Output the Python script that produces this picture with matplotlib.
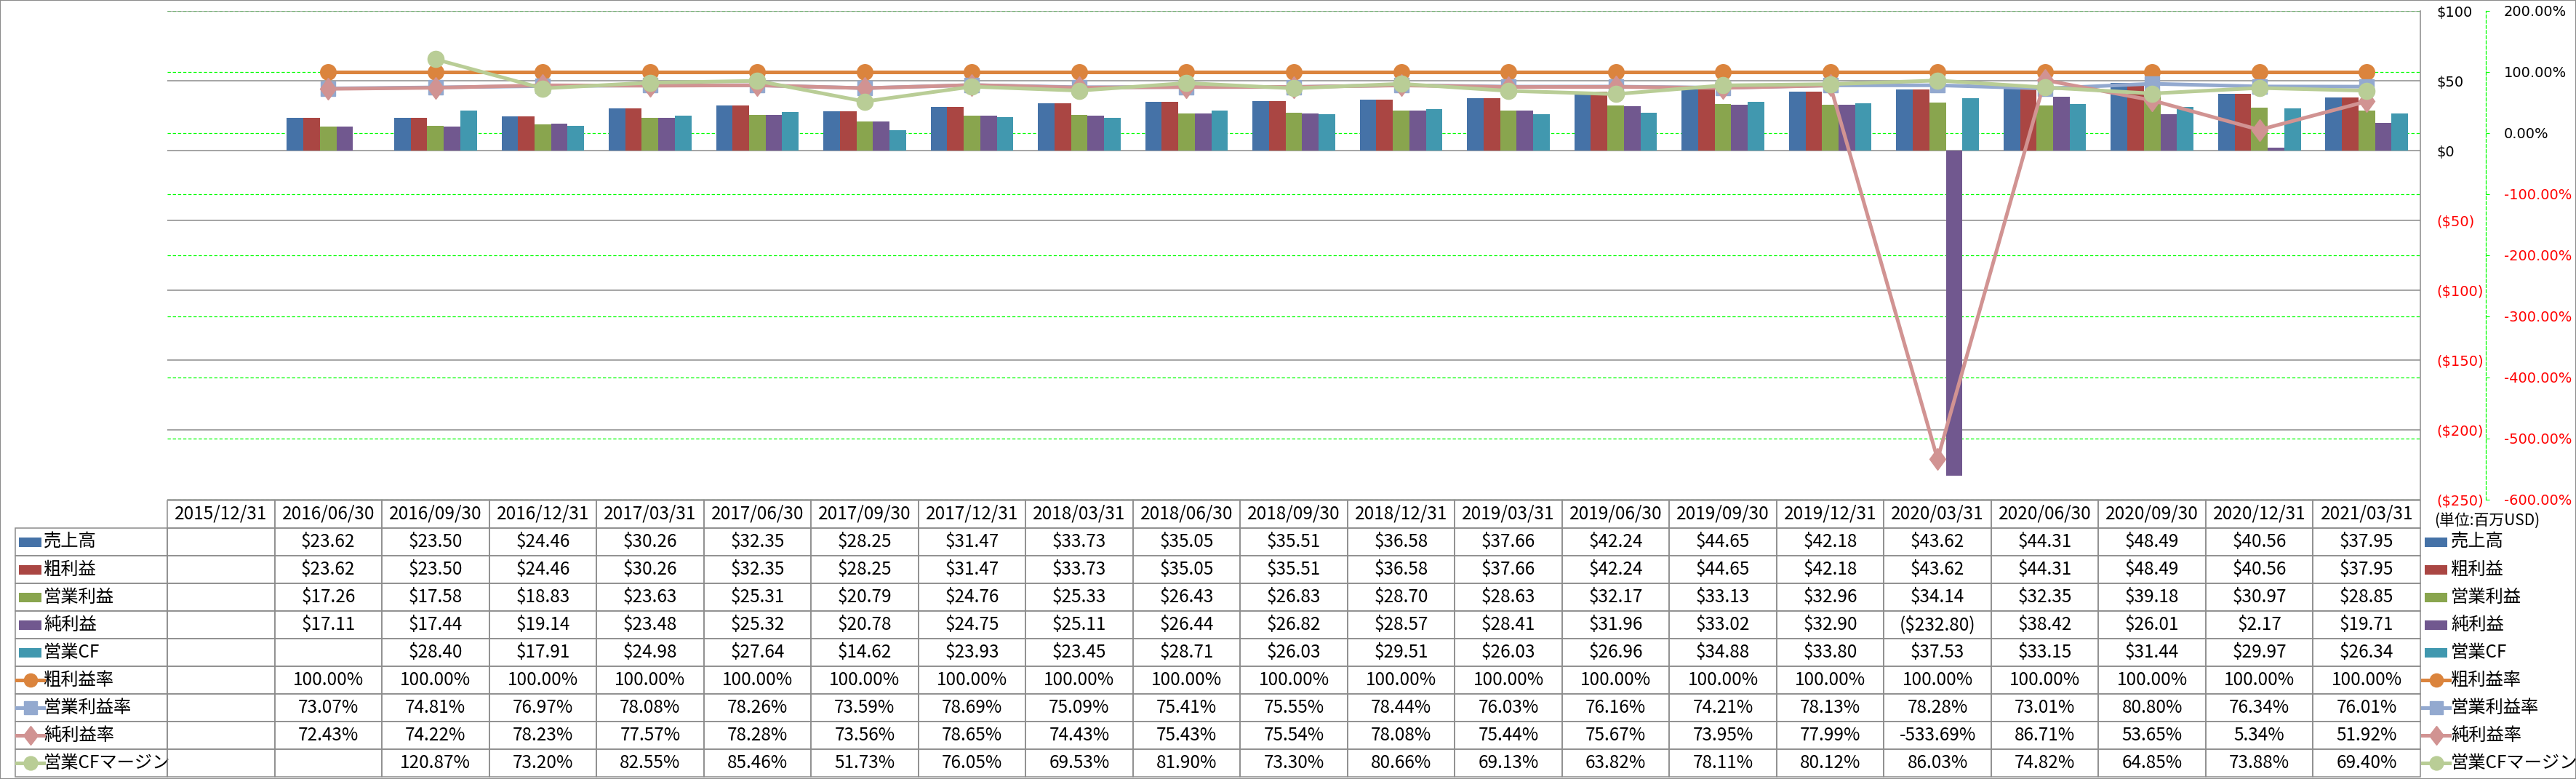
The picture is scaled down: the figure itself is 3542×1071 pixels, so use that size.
import numpy as np
import matplotlib
matplotlib.use('Agg')
import matplotlib.pyplot as plt
from matplotlib.patches import Rectangle
from matplotlib.lines import Line2D
from matplotlib.markers import MarkerStyle
from matplotlib.transforms import Affine2D

plt.rcParams['font.family'] = ['Noto Sans CJK JP', 'DejaVu Sans']

nan = np.nan
dates = ['2015/12/31', '2016/06/30', '2016/09/30', '2016/12/31', '2017/03/31', '2017/06/30',
         '2017/09/30', '2017/12/31', '2018/03/31', '2018/06/30', '2018/09/30', '2018/12/31',
         '2019/03/31', '2019/06/30', '2019/09/30', '2019/12/31', '2020/03/31', '2020/06/30',
         '2020/09/30', '2020/12/31', '2021/03/31']

sales = [nan, 23.62, 23.50, 24.46, 30.26, 32.35, 28.25, 31.47, 33.73, 35.05, 35.51, 36.58,
         37.66, 42.24, 44.65, 42.18, 43.62, 44.31, 48.49, 40.56, 37.95]
gross = [nan, 23.62, 23.50, 24.46, 30.26, 32.35, 28.25, 31.47, 33.73, 35.05, 35.51, 36.58,
         37.66, 42.24, 44.65, 42.18, 43.62, 44.31, 48.49, 40.56, 37.95]
op_income = [nan, 17.26, 17.58, 18.83, 23.63, 25.31, 20.79, 24.76, 25.33, 26.43, 26.83, 28.70,
             28.63, 32.17, 33.13, 32.96, 34.14, 32.35, 39.18, 30.97, 28.85]
net_income = [nan, 17.11, 17.44, 19.14, 23.48, 25.32, 20.78, 24.75, 25.11, 26.44, 26.82, 28.57,
              28.41, 31.96, 33.02, 32.90, -232.80, 38.42, 26.01, 2.17, 19.71]
op_cf = [nan, nan, 28.40, 17.91, 24.98, 27.64, 14.62, 23.93, 23.45, 28.71, 26.03, 29.51,
         26.03, 26.96, 34.88, 33.80, 37.53, 33.15, 31.44, 29.97, 26.34]

gross_margin = [nan] + [100.00] * 20
op_margin = [nan, 73.07, 74.81, 76.97, 78.08, 78.26, 73.59, 78.69, 75.09, 75.41, 75.55, 78.44,
             76.03, 76.16, 74.21, 78.13, 78.28, 73.01, 80.80, 76.34, 76.01]
net_margin = [nan, 72.43, 74.22, 78.23, 77.57, 78.28, 73.56, 78.65, 74.43, 75.43, 75.54, 78.08,
              75.44, 75.67, 73.95, 77.99, -533.69, 86.71, 53.65, 5.34, 51.92]
cf_margin = [nan, nan, 120.87, 73.20, 82.55, 85.46, 51.73, 76.05, 69.53, 81.90, 73.30, 80.66,
             69.13, 63.82, 78.11, 80.12, 86.03, 74.82, 64.85, 73.88, 69.40]

bar_names = ['売上高', '粗利益', '営業利益', '純利益', '営業CF']
bar_series = [sales, gross, op_income, net_income, op_cf]
bar_colors = ['#4572A7', '#AA4643', '#89A54E', '#71588F', '#4198AF']

line_names = ['粗利益率', '営業利益率', '純利益率', '営業CFマージン']
line_series = [gross_margin, op_margin, net_margin, cf_margin]
line_colors = ['#DB843D', '#93A9CF', '#D19392', '#B9CD96']

dollar_ticks = [-250, -200, -150, -100, -50, 0, 50, 100]
pct_ticks = [-600, -500, -400, -300, -200, -100, 0, 100, 200]

GRAY = '#8c8c8c'
GREEN = '#00ff00'
RED = '#ff0000'

W, H = 3542, 1071
fig = plt.figure(figsize=(W / 100, H / 100), dpi=100)
L, R, T, B = 230, 3328, 15, 687
pos = [L / W, 1 - B / H, (R - L) / W, (B - T) / H]

axg = fig.add_axes(pos)
ax = axg.twinx()
axl = axg.twinx()

x = np.arange(len(dates))

# ---- percentage axis (bottom layer, green grid) ----
axg.set_xlim(-0.5, len(dates) - 0.5)
axg.set_ylim(-600, 200)
axg.set_xticks([])
axg.set_yticks(pct_ticks, [f'{v:.2f}%' for v in pct_ticks])
axg.yaxis.tick_right()
axg.tick_params(axis='y', direction='out', length=3.6, width=0.8, color=GREEN,
                pad=14.4, labelsize=14, labelfontfamily='DejaVu Sans')
axg.grid(axis='y', color=GREEN, linestyle=(0, (3.5, 2.2)), linewidth=0.9)
for s in ['left', 'top', 'bottom']:
    axg.spines[s].set_visible(False)
axg.spines['right'].set_position(('outward', 64.8))
axg.spines['right'].set_color(GREEN)
axg.spines['right'].set_linestyle((0, (3.5, 2.2)))
axg.spines['right'].set_linewidth(0.9)
for tk, v in zip(axg.yaxis.get_major_ticks(), pct_ticks):
    c = RED if v < 0 else 'black'
    tk.label1.set_color(c)
    tk.label2.set_color(c)

# ---- dollar axis (bars) ----
ax.set_ylim(-250, 100)
ax.set_yticks(dollar_ticks, [f'(${-v})' if v < 0 else f'${v}' for v in dollar_ticks])
ax.tick_params(axis='y', length=0, pad=15.8, labelsize=14, labelfontfamily='DejaVu Sans')
ax.set_axisbelow(True)
ax.grid(axis='y', color=GRAY, linestyle='-', linewidth=1.1)
for s in ['left', 'top', 'bottom']:
    ax.spines[s].set_visible(False)
ax.spines['right'].set_color(GRAY)
ax.spines['right'].set_linewidth(1.1)
for tk, v in zip(ax.yaxis.get_major_ticks(), dollar_ticks):
    c = RED if v < 0 else 'black'
    tk.label1.set_color(c)
    tk.label2.set_color(c)

bw = 0.154
for i, (vals, col) in enumerate(zip(bar_series, bar_colors)):
    v = np.array(vals, dtype=float)
    ok = np.isfinite(v)
    ax.bar(x[ok] + (i - 2) * bw, v[ok], width=bw, color=col, linewidth=0, zorder=2)

# ---- lines axis (top layer) ----
axl.set_ylim(-600, 200)
axl.set_yticks([])
for s in axl.spines.values():
    s.set_visible(False)
diamond = MarkerStyle('D', transform=Affine2D().scale(0.78, 1.0))
markers = [('o', 15.5), ('s', 14.5), (diamond, 15), ('o', 16)]
for vals, col, (mk, ms) in zip(line_series, line_colors, markers):
    axl.plot(x, vals, color=col, lw=3.6, marker=mk, ms=ms, mfc=col, mec=col)

axg.set_xlim(-0.5, len(dates) - 0.5)

# ---- data table ----
def fmt_d(v):
    if np.isnan(v):
        return ''
    return f'(${-v:.2f})' if v < 0 else f'${v:.2f}'

def fmt_p(v):
    return '' if np.isnan(v) else f'{v:.2f}%'

all_names = bar_names + line_names
rows = [[''] + dates]
for name, vals in zip(bar_names, bar_series):
    rows.append([name] + [fmt_d(v) for v in vals])
for name, vals in zip(line_names, line_series):
    rows.append([name] + [fmt_p(v) for v in vals])

tx0 = 21
bx0 = (tx0 - L) / (R - L)
bw_ax = (R - tx0) / (R - L)
ty_top, ty_bot = 688, 1068
by0 = (B - ty_bot) / (B - T)
bh = (ty_bot - ty_top) / (B - T)
col_w = [209] + [147.5] * len(dates)
tbl = axg.table(cellText=rows, colWidths=col_w, cellLoc='center',
                bbox=[bx0, by0, bw_ax, bh])
tbl.auto_set_font_size(False)
tbl.set_fontsize(17.5)
for (r, c), cell in tbl.get_celld().items():
    cell.set_edgecolor(GRAY)
    cell.set_linewidth(1.1)
    cell.set_facecolor('none')
    if c == 0:
        cell.get_text().set_horizontalalignment('left')
        cell._loc = 'left'
        cell.PAD = 39 / 209
tbl[0, 0].visible_edges = 'open'

# ---- legend keys (table label column and right-hand legend) ----
def fx(px):
    return px / W

def fy(py):
    return 1 - py / H

def draw_key(xl, yc, idx, line_len=37):
    if idx < len(bar_names):
        fig.add_artist(Rectangle((fx(xl + 3), fy(yc + 6.5)), 31 / W, 13 / H,
                                 transform=fig.transFigure, color=bar_colors[idx], lw=0))
    else:
        j = idx - len(bar_names)
        col = line_colors[j]
        mk, ms = markers[j]
        fig.add_artist(Line2D([fx(xl), fx(xl + line_len)], [fy(yc), fy(yc)],
                              transform=fig.transFigure, color=col, lw=3.6))
        fig.add_artist(Line2D([fx(xl + line_len / 2)], [fy(yc)], transform=fig.transFigure,
                              color=col, marker=mk, ms=ms * 0.85, mfc=col, mec=col, lw=0))

for k, name in enumerate(all_names):
    yc = ty_top + 38 * (k + 1) + 19
    draw_key(23, yc, k)
    draw_key(3331, yc, k)
    fig.text(fx(3370), fy(yc), name, ha='left', va='center', fontsize=17.5)

fig.text(fx(3347), fy(716), '(単位:百万USD)', ha='left', va='center', fontsize=15)

fig.add_artist(Rectangle((0, 0), 1, 1, transform=fig.transFigure, fill=False,
                         edgecolor=GRAY, lw=1.5))

fig.savefig('out.png', dpi=100)
